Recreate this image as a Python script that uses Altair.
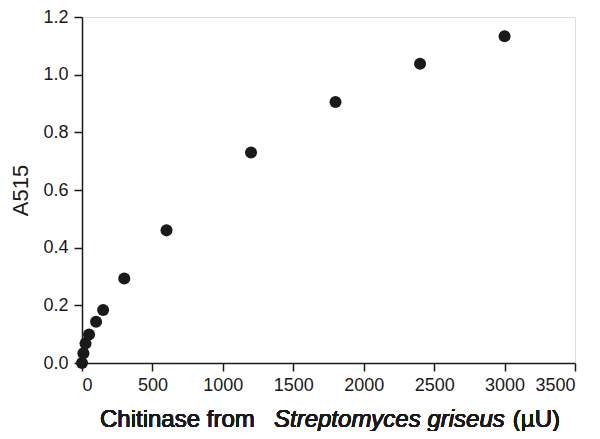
import altair as alt
import pandas as pd

chitinase = [0, 10, 25, 50, 100, 150, 300, 600, 1200, 1800, 2400, 3000]
a515 = [0.0, 0.034, 0.068, 0.099, 0.143, 0.184, 0.293, 0.46, 0.73, 0.905, 1.038, 1.133]
x_ticks = [0, 500, 1000, 1500, 2000, 2500, 3000, 3500]
y_ticks = [0, 0.2, 0.4, 0.6, 0.8, 1.0, 1.2]

df = pd.DataFrame({"x": chitinase, "y": a515})

FONT = "Liberation Sans"
INK = "#1a1a1a"
W, H = 493, 346

points = alt.Chart(df).mark_circle(size=145, color=INK, opacity=1).encode(
    x=alt.X("x:Q", scale=alt.Scale(domain=[0, 3500], nice=False, zero=True),
            axis=alt.Axis(values=x_ticks, format="d",
                          title=None, grid=False, tickSize=8, labelFontSize=18,
                          labelFont=FONT, labelColor=INK, labelPadding=5,
                          domainColor=INK, tickColor=INK,
                          domainWidth=1.5, tickWidth=1.5)),
    y=alt.Y("y:Q", scale=alt.Scale(domain=[0, 1.2], nice=False),
            axis=alt.Axis(values=y_ticks, format=".1f",
                          title="A515", titleFontSize=22, titleFont=FONT,
                          titleFontWeight="normal", titleColor=INK,
                          titlePadding=10, grid=False, tickSize=8,
                          labelFontSize=18, labelFont=FONT, labelColor=INK,
                          labelPadding=6, domainColor=INK, tickColor=INK,
                          domainWidth=1.5, tickWidth=1.5)),
)

title_y = 410
common = dict(baseline="alphabetic", fontSize=24, font=FONT, color=INK, fontWeight="normal")
t1 = alt.Chart(df).mark_text(text="Chitinase from", align="left", **common).encode(
    x=alt.value(18), y=alt.value(title_y))
t2 = alt.Chart(df).mark_text(text="Streptomyces griseus", align="left", fontStyle="italic",
                             **common).encode(
    x=alt.value(192), y=alt.value(title_y))
t3 = alt.Chart(df).mark_text(text="(µU)", align="right", **common).encode(
    x=alt.value(478), y=alt.value(title_y))

chart = alt.layer(points, t1, t2, t3).properties(
    width=W, height=H,
    padding={"left": 74, "top": 9, "right": 17, "bottom": 68},
    autosize=alt.AutoSizeParams(type="none"),
).configure_view(stroke=INK, strokeWidth=1.5).configure(background="white")

chart.save("out.html", embed_options={"renderer": "svg", "actions": False})
